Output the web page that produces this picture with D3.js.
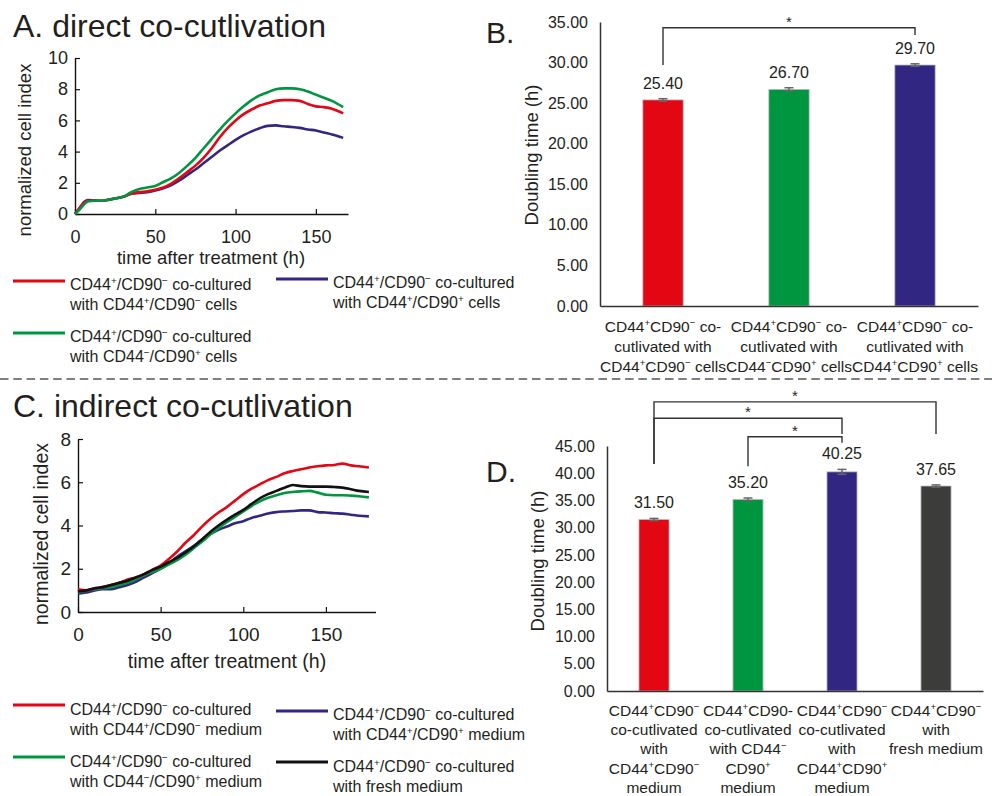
<!DOCTYPE html>
<html>
<head>
<meta charset="utf-8">
<script src="https://cdn.jsdelivr.net/npm/d3@7"></script>
<style>
body { margin: 0; background: #fff; }
svg { font-family: "Liberation Sans", Arial, sans-serif; }
</style>
</head>
<body>
<svg id="fig" width="992" height="796"></svg>
<script>
// ---- panel A: direct co-cultivation, normalized cell index ----
var timesA = [0, 3, 6, 8, 12, 16, 20, 25, 30, 35, 40, 45, 50, 55, 60, 65, 70, 75, 80, 85, 90,
    95, 100, 105, 110, 115, 120, 125, 130, 135, 140, 145, 150, 155, 160, 167];
var redA = [0, 0.4, 0.75, 0.85, 0.85, 0.85, 0.9, 1.0, 1.1, 1.3, 1.4, 1.45, 1.55, 1.7, 1.95, 2.3, 2.7, 3.1, 3.6, 4.2, 4.9,
    5.5, 6.0, 6.4, 6.7, 6.95, 7.1, 7.25, 7.3, 7.3, 7.25, 7.05, 6.9, 6.85, 6.75, 6.45];
var greenA = [0, 0.3, 0.65, 0.8, 0.85, 0.85, 0.9, 1.0, 1.1, 1.4, 1.6, 1.7, 1.8, 2.05, 2.3, 2.65, 3.1, 3.6, 4.2, 4.8, 5.4,
    5.95, 6.45, 6.9, 7.3, 7.6, 7.8, 8.0, 8.05, 8.05, 8.0, 7.85, 7.65, 7.45, 7.25, 6.85];
var blueA = [0, 0.4, 0.8, 0.9, 0.88, 0.85, 0.9, 1.0, 1.1, 1.3, 1.35, 1.4, 1.5, 1.65, 1.85, 2.15, 2.5, 2.85, 3.25, 3.65, 4.05,
    4.4, 4.75, 5.05, 5.3, 5.5, 5.65, 5.68, 5.62, 5.58, 5.52, 5.42, 5.35, 5.22, 5.1, 4.88];
var legendA = [
    ['CD44^+/CD90^- co-cultured', 'with CD44^+/CD90^- cells'],
    ['CD44^+/CD90^- co-cultured', 'with CD44^-/CD90^+ cells'],
    ['CD44^+/CD90^- co-cultured', 'with CD44^+/CD90^+ cells']];

// ---- panel B: doubling time, direct ----
var barsB = [25.40, 26.70, 29.70];
var errB = [0.15, 0.2, 0.15];
var catsB = [
    ['CD44^+CD90^- co-', 'cutlivated with', 'CD44^+CD90^- cells'],
    ['CD44^+CD90^- co-', 'cutlivated with', 'CD44^-CD90^+ cells'],
    ['CD44^+CD90^- co-', 'cutlivated with', 'CD44^+CD90^+ cells']];
var ticksB = [0, 5, 10, 15, 20, 25, 30, 35];
var sigB = [{a: 0, b: 2, top: 34.3, aEnd: 29.7, bEnd: 33.4}];

// ---- panel C: indirect co-cultivation ----
var timesC = [0, 5, 10, 15, 20, 25, 30, 35, 40, 45, 50, 55, 60, 65, 70, 75, 80, 85, 90,
    95, 100, 105, 110, 115, 120, 125, 130, 135, 140, 145, 150, 155, 160, 165, 170, 176];
var redC = [1.05, 1.0, 1.1, 1.15, 1.25, 1.35, 1.5, 1.6, 1.75, 1.95, 2.15, 2.45, 2.8, 3.2, 3.55, 3.95, 4.3, 4.6, 4.85,
    5.15, 5.45, 5.7, 5.9, 6.1, 6.25, 6.42, 6.52, 6.6, 6.68, 6.74, 6.78, 6.8, 6.86, 6.78, 6.74, 6.68];
var greenC = [0.9, 0.98, 1.05, 1.1, 1.15, 1.25, 1.35, 1.5, 1.7, 1.85, 2.0, 2.2, 2.4, 2.65, 2.95, 3.25, 3.58, 3.88, 4.15,
    4.4, 4.65, 4.9, 5.12, 5.28, 5.4, 5.5, 5.55, 5.58, 5.6, 5.52, 5.42, 5.4, 5.4, 5.38, 5.35, 5.3];
var blueC = [0.85, 0.9, 1.0, 1.05, 1.05, 1.15, 1.25, 1.4, 1.6, 1.8, 2.0, 2.25, 2.55, 2.8, 3.05, 3.35, 3.6, 3.8, 3.95,
    4.1, 4.2, 4.35, 4.45, 4.55, 4.62, 4.65, 4.67, 4.7, 4.7, 4.62, 4.6, 4.57, 4.55, 4.5, 4.45, 4.42];
var blackC = [0.95, 1.0, 1.1, 1.15, 1.25, 1.35, 1.45, 1.6, 1.75, 1.95, 2.1, 2.3, 2.5, 2.75, 3.03, 3.35, 3.7, 4.0, 4.26,
    4.5, 4.72, 5.0, 5.26, 5.45, 5.6, 5.75, 5.87, 5.82, 5.8, 5.8, 5.8, 5.78, 5.75, 5.68, 5.6, 5.55];
var legendC = [
    ['CD44^+/CD90^- co-cultured', 'with CD44^+/CD90^- medium'],
    ['CD44^+/CD90^- co-cultured', 'with CD44^-/CD90^+ medium'],
    ['CD44^+/CD90^- co-cultured', 'with CD44^+/CD90^+ medium'],
    ['CD44^+/CD90^- co-cultured', 'with fresh medium']];

// ---- panel D: doubling time, indirect ----
var barsD = [31.50, 35.20, 40.25, 37.65];
var errD = [0.2, 0.25, 0.45, 0.2];
var catsD = [
    ['CD44^+CD90^-', 'co-cutlivated', 'with', 'CD44^+CD90^-', 'medium'],
    ['CD44^+CD90-', 'co-cutlivated', 'with CD44^-', 'CD90^+', 'medium'],
    ['CD44^+CD90^-', 'co-cutlivated', 'with', 'CD44^+CD90^+', 'medium'],
    ['CD44^+CD90^-', 'with', 'fresh medium']];
var ticksD = [0, 5, 10, 15, 20, 25, 30, 35, 40, 45];
var sigD = [
    {a: 0, b: 3, top: 53.1, aEnd: 41.7, bEnd: 47.2},
    {a: 0, b: 2, top: 50.1, aEnd: 41.7, bEnd: 47.2},
    {a: 1, b: 2, top: 46.7, aEnd: 41.3, bEnd: 45.6}];

var RED = '#e30613', GREEN = '#009640', BLUE = '#312783', BLACK = '#111111', DARK = '#3c3c3b';
var TEXT = '#231f20';

var svg = d3.select('#fig');

// text with ^+ / ^- superscripts
function richText(g, str, x, y, fs, anchor){
    var t = g.append('text')
        .attr('x', x)
        .attr('y', y)
        .attr('font-size', fs)
        .attr('fill', TEXT)
        .attr('text-anchor', anchor || 'start');
    var up = 0;
    str.split(/(\^[+\-])/).forEach(function(p){
        if (!p) return;
        if (p[0] === '^'){
            t.append('tspan')
                .attr('font-size', fs * 0.62)
                .attr('dy', -fs * 0.36 - up)
                .text(p[1] === '+' ? '+' : '\u2212');
            up = -fs * 0.36;
        } else {
            t.append('tspan')
                .attr('dy', -up)
                .text(p);
            up = 0;
        }
    });
    return t;
}

function linePanel(o){
    var g = svg.append('g');
    var x = d3.scaleLinear().domain(o.xDomain).range(o.xRange);
    var y = d3.scaleLinear().domain(o.yDomain).range(o.yRange);

    var xAxis = g.append('g')
        .attr('transform', 'translate(0,' + o.yRange[0] + ')')
        .call(d3.axisBottom(x).tickValues([0, 50, 100, 150]).tickSizeInner(-5).tickSizeOuter(0).tickPadding(16));
    var yAxis = g.append('g')
        .attr('transform', 'translate(' + o.xRange[0] + ',0)')
        .call(d3.axisLeft(y).tickValues(o.yTicks).tickSizeInner(-5).tickSizeOuter(0).tickPadding(7));
    [xAxis, yAxis].forEach(function(a){
        a.attr('font-family', null).attr('font-size', o.fs);
        a.select('.domain').attr('stroke', '#111').attr('stroke-width', 1.4);
        a.selectAll('.tick line').attr('stroke', '#111').attr('stroke-width', 1.2);
        a.selectAll('.tick text').attr('fill', TEXT);
    });

    var line = d3.line()
        .x(function(d){ return x(d[0]); })
        .y(function(d){ return y(d[1]); })
        .curve(d3.curveMonotoneX);
    o.series.forEach(function(s){
        g.append('path')
            .datum(o.times.map(function(t, i){ return [t, s.values[i]]; }))
            .attr('d', line)
            .attr('fill', 'none')
            .attr('stroke', s.color)
            .attr('stroke-width', 2.6)
            .attr('stroke-linejoin', 'round');
    });

    g.append('text')
        .attr('x', o.xLabel[0]).attr('y', o.xLabel[1])
        .attr('text-anchor', 'middle')
        .attr('font-size', o.fs + 0.5)
        .attr('fill', TEXT)
        .text('time after treatment (h)');
    g.append('text')
        .attr('transform', 'translate(' + o.yLabel[0] + ',' + o.yLabel[1] + ') rotate(-90)')
        .attr('text-anchor', 'middle')
        .attr('font-size', o.fs + 0.5)
        .attr('fill', TEXT)
        .text('normalized cell index');
    g.append('text')
        .attr('x', o.title[0]).attr('y', o.title[1])
        .attr('font-size', 32)
        .attr('fill', TEXT)
        .text(o.title[2]);
}

function legend(items){
    var g = svg.append('g');
    items.forEach(function(it){
        g.append('line')
            .attr('x1', it.x).attr('x2', it.x + 52)
            .attr('y1', it.ly).attr('y2', it.ly)
            .attr('stroke', it.color)
            .attr('stroke-width', 3);
        it.lines.forEach(function(l, i){
            richText(g, l, it.x + 57, it.ty + i * 19.5, 16);
        });
    });
}

function barPanel(o){
    var g = svg.append('g');
    var x = d3.scaleBand().domain(d3.range(o.values.length)).range(o.xRange);
    var y = d3.scaleLinear().domain([0, o.yMax]).range(o.yRange);
    var bw = x.bandwidth() * 0.32;
    var cx = function(i){ return x(i) + x.bandwidth() / 2; };

    g.selectAll('rect.bar')
        .data(o.values)
        .enter()
        .append('rect')
        .attr('class', 'bar')
        .attr('x', function(d, i){ return cx(i) - bw / 2; })
        .attr('y', function(d){ return y(d); })
        .attr('width', bw)
        .attr('height', function(d){ return y(0) - y(d); })
        .attr('fill', function(d, i){ return o.colors[i]; })
        .attr('stroke', '#bdbdbd')
        .attr('stroke-width', 0.8);

    // error bars
    o.values.forEach(function(v, i){
        var e = o.errs[i], c = cx(i);
        var eg = g.append('g').attr('stroke', '#666').attr('stroke-width', 1.5);
        eg.append('line').attr('x1', c).attr('x2', c).attr('y1', y(v - e)).attr('y2', y(v + e));
        eg.append('line').attr('x1', c - 4.5).attr('x2', c + 4.5).attr('y1', y(v - e)).attr('y2', y(v - e));
        eg.append('line').attr('x1', c - 4.5).attr('x2', c + 4.5).attr('y1', y(v + e)).attr('y2', y(v + e));
        g.append('text')
            .attr('x', c)
            .attr('y', y(v + e) - 10)
            .attr('text-anchor', 'middle')
            .attr('font-size', 16)
            .attr('fill', TEXT)
            .text(d3.format('.2f')(v));
    });

    var yAxis = g.append('g')
        .attr('transform', 'translate(' + o.xRange[0] + ',0)')
        .call(d3.axisLeft(y).tickValues(o.ticks).tickFormat(d3.format('.2f')).tickSize(0).tickPadding(12));
    yAxis.attr('font-family', null).attr('font-size', 16);
    yAxis.selectAll('.tick text').attr('fill', TEXT);
    yAxis.select('.domain').attr('stroke', '#333').attr('stroke-width', 1.5);

    var xAxis = g.append('g')
        .attr('transform', 'translate(0,' + o.yRange[0] + ')')
        .call(d3.axisBottom(x).tickSize(0).tickFormat(''));
    xAxis.select('.domain').attr('stroke', '#333').attr('stroke-width', 1.5);

    o.cats.forEach(function(lines, i){
        lines.forEach(function(l, j){
            richText(g, l, cx(i), o.catY + j * o.catStep, 15.5, 'middle');
        });
    });

    // significance brackets
    o.sig.forEach(function(s){
        var xa = cx(s.a), xb = cx(s.b);
        g.append('path')
            .attr('d', 'M' + xa + ',' + y(s.aEnd) + 'V' + y(s.top) + 'H' + xb + 'V' + y(s.bEnd))
            .attr('fill', 'none')
            .attr('stroke', '#333')
            .attr('stroke-width', 1.4);
        g.append('text')
            .attr('x', (xa + xb) / 2)
            .attr('y', y(s.top) - 1)
            .attr('text-anchor', 'middle')
            .attr('font-size', 15)
            .attr('fill', TEXT)
            .text('*');
    });

    g.append('text')
        .attr('transform', 'translate(' + o.yLabel[0] + ',' + o.yLabel[1] + ') rotate(-90)')
        .attr('text-anchor', 'middle')
        .attr('font-size', 18.5)
        .attr('fill', TEXT)
        .text('Doubling time (h)');
    g.append('text')
        .attr('x', o.title[0]).attr('y', o.title[1])
        .attr('font-size', 30)
        .attr('fill', TEXT)
        .text(o.title[2]);
}

linePanel({
    xDomain: [0, 170], xRange: [75, 348],
    yDomain: [0, 10], yRange: [214, 58],
    yTicks: [0, 2, 4, 6, 8, 10], fs: 18,
    times: timesA,
    series: [{values: blueA, color: BLUE}, {values: redA, color: RED}, {values: greenA, color: GREEN}],
    xLabel: [211, 264], yLabel: [31, 150],
    title: [13, 37, 'A. direct co-cutlivation']
});
legend([
    {x: 13, ly: 281, ty: 290, color: RED, lines: legendA[0]},
    {x: 13, ly: 333, ty: 342, color: GREEN, lines: legendA[1]},
    {x: 276, ly: 279, ty: 288, color: BLUE, lines: legendA[2]}
]);

barPanel({
    values: barsB, errs: errB, colors: [RED, GREEN, BLUE],
    xRange: [600, 978], yRange: [306, 22], yMax: 35, ticks: ticksB,
    cats: catsB, catY: 332, catStep: 20, sig: sigB,
    yLabel: [538, 155], title: [486, 43, 'B.']
});

// separator between direct and indirect experiments
svg.append('line')
    .attr('x1', 0).attr('x2', 992)
    .attr('y1', 379).attr('y2', 379)
    .attr('stroke', '#555')
    .attr('stroke-width', 1.4)
    .attr('stroke-dasharray', '8.5,4.8');

linePanel({
    xDomain: [0, 180], xRange: [78, 375.5],
    yDomain: [0, 8], yRange: [612, 439],
    yTicks: [0, 2, 4, 6, 8], fs: 19,
    times: timesC,
    series: [{values: blueC, color: BLUE}, {values: greenC, color: GREEN}, {values: redC, color: RED}, {values: blackC, color: BLACK}],
    xLabel: [227, 668], yLabel: [48, 534],
    title: [13, 417, 'C. indirect co-cutlivation']
});
legend([
    {x: 13, ly: 705, ty: 715, color: RED, lines: legendC[0]},
    {x: 13, ly: 757, ty: 767, color: GREEN, lines: legendC[1]},
    {x: 276, ly: 711, ty: 720, color: BLUE, lines: legendC[2]},
    {x: 276, ly: 762, ty: 772, color: BLACK, lines: legendC[3]}
]);

barPanel({
    values: barsD, errs: errD, colors: [RED, GREEN, BLUE, DARK],
    xRange: [607, 983], yRange: [691, 446], yMax: 45, ticks: ticksD,
    cats: catsD, catY: 716, catStep: 19.2, sig: sigD,
    yLabel: [544, 561], title: [486, 482, 'D.']
});
</script>
</body>
</html>
